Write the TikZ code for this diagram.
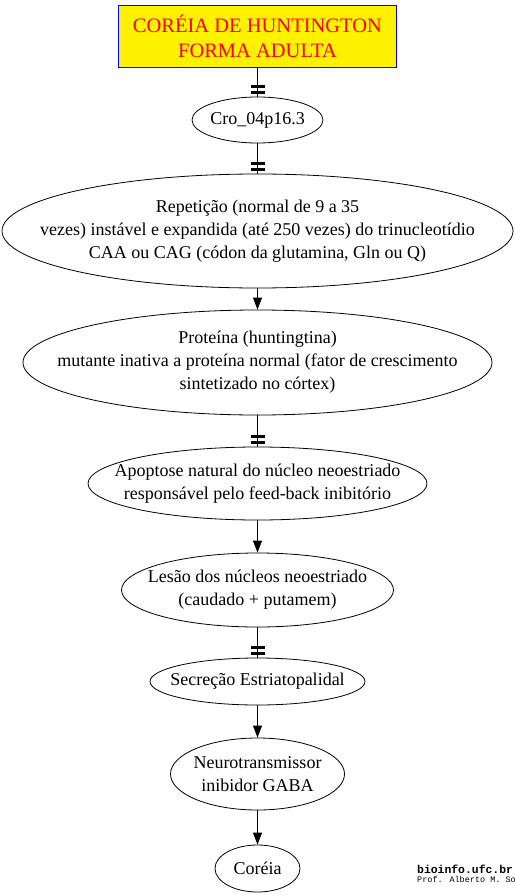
\documentclass[tikz,border=0pt]{standalone}
\usepackage{fontspec}
\setmainfont{Liberation Serif}
\newfontfamily\monofont{Liberation Mono}
\usetikzlibrary{shapes.geometric,arrows.meta,decorations.markings}
\begin{document}
\begin{tikzpicture}[x=1pt,y=-1pt,
  every node/.style={inner sep=0pt},
  oval/.style={draw, ellipse, line width=0.8pt},
  txt/.style={font=\fontsize{18}{23}\selectfont, align=center},
  conn/.style={line width=0.8pt},
  arr/.style={conn, -{Triangle[length=12pt,width=9pt]}},
  teetee/.style={conn, postaction={decorate}, decoration={markings,
     mark=at position -4pt with {\fill (-1.6pt,-7pt) rectangle (1.6pt,7pt);},
     mark=at position -10pt with {\fill (-1.6pt,-7pt) rectangle (1.6pt,7pt);}}}
]
\fill[white] (0,0) rectangle (514,896);
\useasboundingbox (0,0) rectangle (514,896);

\node[draw=blue, fill=yellow, line width=0.8pt, minimum width=278pt, minimum height=62pt,
      text=red, font=\fontsize{20.5}{25}\selectfont, align=center] (title) at (257.5,36)
      {CORÉIA DE HUNTINGTON\\FORMA ADULTA};

\node[oval, minimum width=131pt, minimum height=46pt] (cro) at (257.5,120) {};
\node[txt] (croT) at (cro.center) {Cro\_04p16.3};

\node[oval, minimum width=511pt, minimum height=114pt] (rep) at (257.5,231) {};
\node[txt] (repT) at (rep.center) {Repetição (normal de 9 a 35\\vezes) instável e expandida (até 250 vezes) do trinucleotídio\\CAA ou CAG (códon da glutamina, Gln ou Q)};

\node[oval, minimum width=469pt, minimum height=105pt] (prot) at (257.5,362.5) {};
\node[txt] (protT) at (prot.center) {Proteína (huntingtina)\\mutante inativa a proteína normal (fator de crescimento\\sintetizado no córtex)};

\node[oval, minimum width=339pt, minimum height=73pt] (apo) at (257.5,483.5) {};
\node[txt] (apoT) at (apo.center) {Apoptose natural do núcleo neoestriado\\responsável pelo feed-back inibitório};

\node[oval, minimum width=272pt, minimum height=74pt] (les) at (257.5,590) {};
\node[txt] (lesT) at (les.center) {Lesão dos núcleos neoestriado\\(caudado + putamem)};

\node[oval, minimum width=215pt, minimum height=47pt] (sec) at (257.5,681.5) {};
\node[txt] (secT) at (sec.center) {Secreção Estriatopalidal};

\node[oval, minimum width=174pt, minimum height=72pt] (neu) at (257.5,774) {};
\node[txt] (neuT) at (neu.center) {Neurotransmissor\\inibidor GABA};

\node[oval, minimum width=85pt, minimum height=47pt] (cor) at (257.5,868.5) {};
\node[txt] (corT) at (cor.center) {Coréia};

\draw[teetee] (title) -- (cro);
\draw[teetee] (cro) -- (rep);
\draw[arr] (rep) -- (prot);
\draw[teetee] (prot) -- (apo);
\draw[arr] (apo) -- (les);
\draw[teetee] (les) -- (sec);
\draw[arr] (sec) -- (neu);
\draw[arr] (neu) -- (cor);

\node[anchor=base west, font=\monofont\bfseries\fontsize{11.4}{12}\selectfont] (site) at (417,873) {bioinfo.ufc.br};
\node[anchor=base west, font=\monofont\fontsize{8.5}{9}\selectfont] (prof) at (417,882) {Prof. Alberto M. So};
\end{tikzpicture}
\end{document}
